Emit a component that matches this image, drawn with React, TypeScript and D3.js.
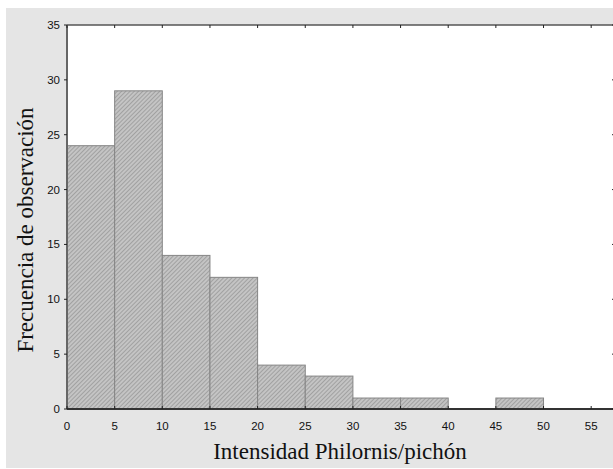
import React from "react";
import * as d3 from "d3";

const binStarts = [0, 5, 10, 15, 20, 25, 30, 35, 40, 45];
const binWidth = 5;
const counts = [24, 29, 14, 12, 4, 3, 1, 1, 0, 1];
const xTicks = [0, 5, 10, 15, 20, 25, 30, 35, 40, 45, 50, 55];
const yTicks = [0, 5, 10, 15, 20, 25, 30, 35];
const xTitle = "Intensidad Philornis/pichón";
const yTitle = "Frecuencia de observación";

export default function App() {
  const W = 613, H = 469;
  const left = 67, right = 615, top = 25, bottom = 409;
  const x = d3.scaleLinear().domain([0, 57.5]).range([left, right]);
  const y = d3.scaleLinear().domain([0, 35]).range([bottom, top]);
  return (
    <svg width={W} height={H} style={{ position: "absolute", left: 0, top: 0 }}>
      <defs>
        <pattern id="hatch" patternUnits="userSpaceOnUse" width="3" height="3" patternTransform="rotate(45)">
          <rect width="3" height="3" fill="#c4c4c4" />
          <line x1="0" y1="0" x2="0" y2="3" stroke="#8a8a8a" strokeWidth="1.2" />
        </pattern>
      </defs>
      <rect x={0} y={0} width={W} height={H} fill="#fff" />
      <rect x={6} y={8} width={W - 6} height={H - 9} fill="#e5e5e5" />
      <rect x={left} y={top} width={right - left} height={bottom - top} fill="#fff" />
      {binStarts.map((b, i) =>
        counts[i] > 0 ? (
          <rect
            key={i}
            x={x(b)}
            y={y(counts[i])}
            width={x(b + binWidth) - x(b)}
            height={y(0) - y(counts[i])}
            fill="url(#hatch)"
            stroke="#858585"
            strokeWidth={1}
          />
        ) : null
      )}
      <line x1={left} y1={top} x2={right} y2={top} stroke="#555" strokeWidth={1.5} />
      <line x1={right} y1={top} x2={right} y2={bottom} stroke="#555" strokeWidth={1.5} />
      <line x1={left} y1={top} x2={left} y2={bottom} stroke="#666" strokeWidth={2} />
      <line x1={left} y1={bottom} x2={right} y2={bottom} stroke="#333" strokeWidth={2} />
      {xTicks.map((t) => (
        <g key={"x" + t}>
          <line x1={x(t)} x2={x(t)} y1={bottom} y2={bottom - 3} stroke="#222" />
          <line x1={x(t)} x2={x(t)} y1={top} y2={top + 3} stroke="#222" />
          <text x={x(t)} y={bottom + 21} textAnchor="middle" fontFamily="Liberation Sans, Arial, sans-serif" fontSize={11.5} fill="#111">
            {t}
          </text>
        </g>
      ))}
      {yTicks.map((t) => (
        <g key={"y" + t}>
          <line x1={left - 3} x2={left} y1={y(t)} y2={y(t)} stroke="#222" />
          <line x1={right - 3} x2={right} y1={y(t)} y2={y(t)} stroke="#222" />
          <text x={left - 7} y={y(t) + 4} textAnchor="end" fontFamily="Liberation Sans, Arial, sans-serif" fontSize={11.5} fill="#111">
            {t}
          </text>
        </g>
      ))}
      <text x={340} y={459} textAnchor="middle" fontFamily="Liberation Serif, Times New Roman, serif" fontSize={23} fill="#111">
        {xTitle}
      </text>
      <text
        transform={`translate(33, 230) rotate(-90)`}
        textAnchor="middle"
        fontFamily="Liberation Serif, Times New Roman, serif"
        fontSize={23}
        fill="#111"
      >
        {yTitle}
      </text>
    </svg>
  );
}
